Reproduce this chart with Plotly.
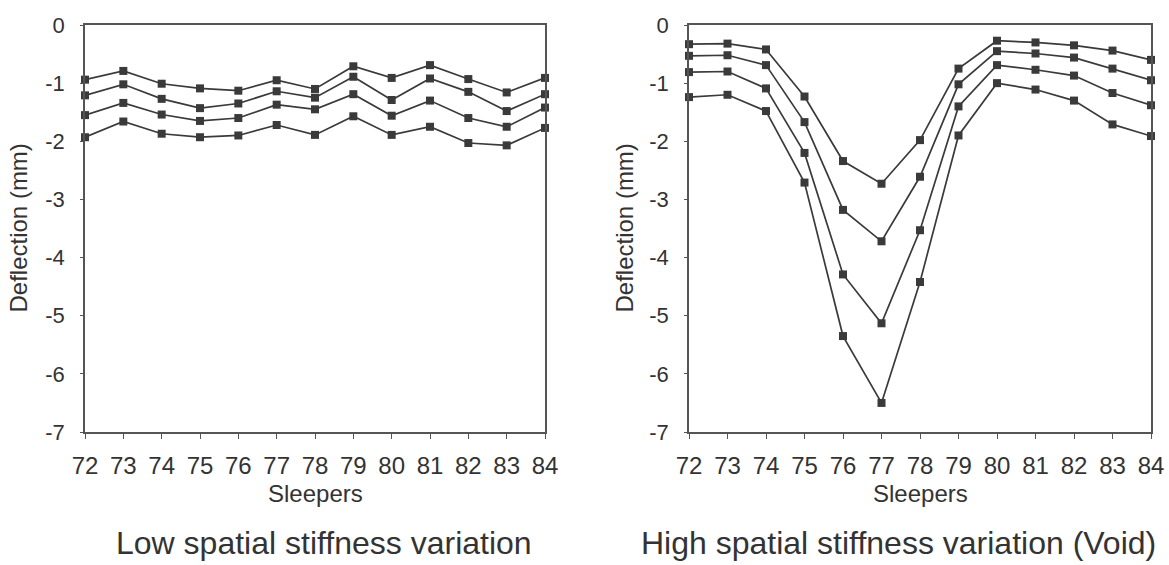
import plotly.graph_objects as go
from plotly.subplots import make_subplots

sleepers = list(range(72, 85))

# Low spatial stiffness variation (four load cases, top to bottom)
low_a = [-0.94, -0.79, -1.01, -1.09, -1.13, -0.95, -1.10, -0.71, -0.91, -0.69, -0.93, -1.16, -0.91]
low_b = [-1.21, -1.02, -1.27, -1.43, -1.35, -1.14, -1.25, -0.89, -1.29, -0.92, -1.15, -1.48, -1.19]
low_c = [-1.55, -1.34, -1.54, -1.65, -1.60, -1.37, -1.45, -1.19, -1.56, -1.30, -1.60, -1.75, -1.42]
low_d = [-1.93, -1.66, -1.87, -1.93, -1.90, -1.72, -1.89, -1.57, -1.89, -1.75, -2.03, -2.07, -1.77]

# High spatial stiffness variation (Void)
high_a = [-0.33, -0.32, -0.42, -1.23, -2.34, -2.73, -1.98, -0.75, -0.27, -0.30, -0.35, -0.44, -0.60]
high_b = [-0.53, -0.52, -0.69, -1.67, -3.18, -3.72, -2.61, -1.02, -0.45, -0.49, -0.56, -0.75, -0.95]
high_c = [-0.81, -0.80, -1.09, -2.20, -4.29, -5.13, -3.53, -1.40, -0.69, -0.77, -0.87, -1.17, -1.38]
high_d = [-1.24, -1.20, -1.48, -2.71, -5.35, -6.50, -4.42, -1.90, -1.00, -1.11, -1.30, -1.71, -1.91]

y_ticks = [0, -1, -2, -3, -4, -5, -6, -7]
y_ticktext = ["0", "-1", "-2", "-3", "-4", "-5", "-6", "-7"]
x_ticktext = [str(s) for s in sleepers]

y_title = "Deflection (mm)"
x_title = "Sleepers"
captions = ["Low spatial stiffness variation", "High spatial stiffness variation (Void)"]

W, H = 1169, 565
FONT = "Liberation Sans, Arial, sans-serif"
INK = "#333333"
LINE = "#3a3a3a"
TICK_SIZE = 24
YTICK_SIZE = 22
CAP_SIZE = 32

fig = make_subplots(rows=1, cols=2)

for col, series in ((1, [low_a, low_b, low_c, low_d]), (2, [high_a, high_b, high_c, high_d])):
    for ys in series:
        fig.add_trace(go.Scatter(
            x=sleepers, y=ys, mode="lines+markers",
            line=dict(color=LINE, width=1.7),
            marker=dict(symbol="square", size=8, color=LINE),
            showlegend=False, cliponaxis=False,
        ), row=1, col=col)

y0, y1 = 1 - 432 / H, 1 - 25 / H
domains = [(85 / W, 545 / W), (689 / W, 1151 / W)]

axis_common = dict(showgrid=False, zeroline=False, showline=True, linecolor="#555555",
                   linewidth=1.5, mirror=True, ticks="outside", tickcolor="#555555",
                   automargin=False)

xfont = dict(family=FONT, size=TICK_SIZE, color=INK)
yfont = dict(family=FONT, size=YTICK_SIZE, color=INK)

fig.update_layout(
    width=W, height=H, margin=dict(l=0, r=0, t=0, b=0, autoexpand=False),
    paper_bgcolor="white", plot_bgcolor="white",
    xaxis=dict(domain=domains[0], range=[72, 84], tickvals=sleepers, ticktext=x_ticktext,
               ticklen=5, tickwidth=1.2, ticklabelstandoff=6, tickfont=xfont, **axis_common),
    xaxis2=dict(domain=domains[1], range=[72, 84], tickvals=sleepers, ticktext=x_ticktext,
                ticklen=5, tickwidth=1.2, ticklabelstandoff=6, tickfont=xfont, **axis_common),
    yaxis=dict(domain=[y0, y1], range=[-7, 0], tickvals=y_ticks, ticktext=y_ticktext,
               ticklen=3, tickwidth=1.2, ticklabelstandoff=11, tickfont=yfont, **axis_common),
    yaxis2=dict(domain=[y0, y1], range=[-7, 0], tickvals=y_ticks, ticktext=y_ticktext,
                ticklen=3, tickwidth=1.2, ticklabelstandoff=11, tickfont=yfont, **axis_common),
)

ann = []
for (d0, d1), cap, ytx, capx in zip(domains, captions, (18 / W, 624 / W), (324 / W, 898 / W)):
    cx = (d0 + d1) / 2
    ann.append(dict(text=x_title, x=cx, y=1 - 493 / H, xref="paper", yref="paper",
                    showarrow=False, font=dict(family=FONT, size=TICK_SIZE, color=INK),
                    xanchor="center", yanchor="middle"))
    ann.append(dict(text=y_title, x=ytx, y=(y0 + y1) / 2, xref="paper", yref="paper",
                    showarrow=False, textangle=-90, font=dict(family=FONT, size=TICK_SIZE, color=INK),
                    xanchor="center", yanchor="middle"))
    ann.append(dict(text=cap, x=capx, y=1 - 543 / H, xref="paper", yref="paper",
                    showarrow=False, font=dict(family=FONT, size=CAP_SIZE, color=INK),
                    xanchor="center", yanchor="middle"))
fig.update_layout(annotations=ann)

fig.write_html("out.html", config={"displayModeBar": False},
               post_script="document.body.style.margin='0';document.body.style.overflow='hidden';")
